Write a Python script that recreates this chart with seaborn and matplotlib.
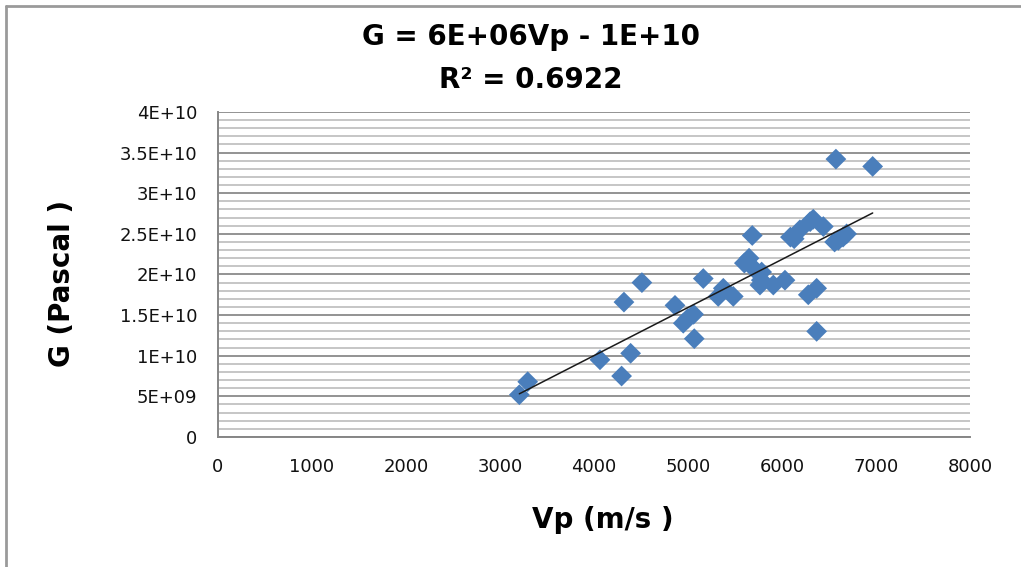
import numpy as np
import pandas as pd
import matplotlib
matplotlib.use("Agg")
import matplotlib.pyplot as plt
from matplotlib.ticker import MultipleLocator
from matplotlib.lines import Line2D
import seaborn as sns

# P-wave velocity (m/s) and shear modulus G (Pascal)
vp = [3206, 3295, 4064, 4294, 4390, 4319, 4510, 4862, 4950, 5000,
      5060, 5067, 5163, 5322, 5376, 5482, 5684, 5600, 5650, 5695,
      5784, 5766, 5908, 6032, 6090, 6130, 6191, 6300, 6333, 6440,
      6560, 6599, 6650, 6688, 6280, 6369, 6369, 6574, 6965, 5780]
g = [5.2e9, 6.8e9, 9.5e9, 7.5e9, 10.3e9, 16.6e9, 19.0e9, 16.2e9, 14.0e9, 14.6e9,
     15.1e9, 12.1e9, 19.5e9, 17.3e9, 18.3e9, 17.3e9, 24.8e9, 21.4e9, 22.0e9, 20.8e9,
     20.3e9, 18.7e9, 18.7e9, 19.3e9, 24.6e9, 24.4e9, 25.5e9, 26.5e9, 26.8e9, 25.9e9,
     24.0e9, 24.2e9, 24.6e9, 25.0e9, 17.5e9, 18.3e9, 13.0e9, 34.2e9, 33.3e9, 19.3e9]

x_ticks = [0, 1000, 2000, 3000, 4000, 5000, 6000, 7000, 8000]
y_ticks = [0, 5e9, 1e10, 1.5e10, 2e10, 2.5e10, 3e10, 3.5e10, 4e10]
y_labels = ["0", "5E+09", "1E+10", "1.5E+10", "2E+10", "2.5E+10", "3E+10", "3.5E+10", "4E+10"]

df = pd.DataFrame({"Vp": vp, "G": g})

sns.set_style("white")
plt.rcParams["font.family"] = ["DejaVu Sans"]

fig = plt.figure(figsize=(10.21, 5.67), dpi=100)
ax = fig.add_axes([0.2135, 0.2293, 0.7365, 0.5732])

grey = "#868686"
ax.yaxis.set_minor_locator(MultipleLocator(1e9))
ax.grid(which="minor", axis="y", color="#c2c2c2", lw=1.3)
ax.grid(which="major", axis="y", color="#8a8a8a", lw=1.3)
ax.grid(which="major", axis="x", visible=False)
ax.set_axisbelow(True)

sns.scatterplot(data=df, x="Vp", y="G", marker="D", s=112, color="#4a7ebb",
                edgecolor="none", ax=ax, zorder=3)
sns.regplot(data=df, x="Vp", y="G", scatter=False, ci=None, ax=ax,
            line_kws={"color": "#1a1a1a", "lw": 1.1, "zorder": 4})

ax.set_xlim(0, 8000)
ax.set_ylim(0, 4e10)
ax.set_xticks(x_ticks)
ax.set_xticklabels([str(t) for t in x_ticks], fontsize=13)
ax.set_yticks(y_ticks)
ax.set_yticklabels(y_labels, fontsize=13)
ax.tick_params(which="major", direction="out", length=6, width=1.2, color=grey,
               labelcolor="#111111", pad=9)
ax.tick_params(which="minor", length=0)
ax.set_xlabel("")
ax.set_ylabel("")

for side in ["top", "right"]:
    ax.spines[side].set_visible(False)
for side in ["left", "bottom"]:
    ax.spines[side].set_color(grey)
    ax.spines[side].set_linewidth(1.4)

fig.text(0.52, 1 - 37 / 567, "G = 6E+06Vp - 1E+10", ha="center", va="center",
         fontsize=20, fontweight="bold", color="black")
fig.text(0.52, 1 - 80 / 567, "R² = 0.6922", ha="center", va="center",
         fontsize=20, fontweight="bold", color="black")
fig.text(62 / 1021, 1 - 283 / 567, "G (Pascal )", rotation=90, ha="center",
         va="center", fontsize=20, fontweight="bold", color="black")
fig.text(603 / 1021, 1 - 520 / 567, "Vp (m/s )", ha="center", va="center",
         fontsize=20, fontweight="bold", color="black")

# thin chart-area border on the top and left edges
fig.add_artist(Line2D([6 / 1021, 1], [1 - 6 / 567, 1 - 6 / 567], color="#9a9a9a", lw=2))
fig.add_artist(Line2D([6 / 1021, 6 / 1021], [0, 1 - 6 / 567], color="#9a9a9a", lw=2))

fig.savefig("out.png", dpi=100)
